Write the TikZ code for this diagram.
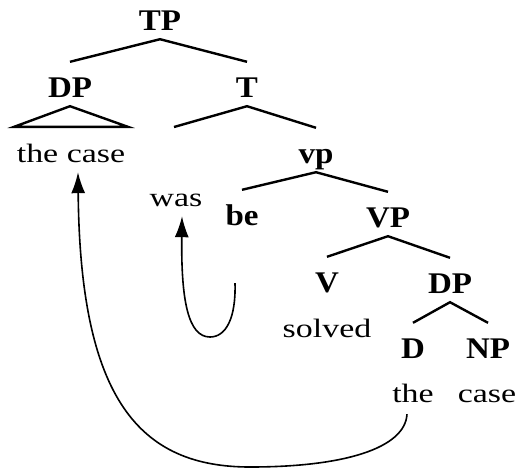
\documentclass[tikz,border=0pt]{standalone}
\usepackage{fontspec}
\setmainfont{Liberation Serif}
\newfontfamily\catfont[FakeStretch=1.1]{Liberation Serif}
\newfontfamily\wordfont[FakeStretch=1.28]{Liberation Serif}
\usetikzlibrary{arrows.meta}

\begin{document}
\begin{tikzpicture}
	[x=1pt, y=-1pt,
	cat/.style ={anchor=base, inner sep=0pt, text height=35pt, text depth=9pt, font=\catfont\bfseries\fontsize{30}{36}\selectfont},
	word/.style ={anchor=base, inner xsep=2.5pt, inner ysep=0pt, text height=35pt, text depth=10pt, font=\wordfont\fontsize{26.5}{32}\selectfont},
	branch/.style ={draw, line width=2.4pt},
	move/.style ={draw, line width=1.6pt, -{Latex[length=21pt,width=14pt]}}]
	\useasboundingbox (0,0) rectangle (518,469);
	\draw (160,30) node[cat] (TP) {TP};
	\draw (70,97) node[cat] (DP) {DP};
	\draw (247,97) node[cat] (T) {T};
	\draw (71,162) node[word] (dpwords) {the case};
	\coordinate (Tgap) at (174,127);
	\draw (316,163) node[cat] (vp) {vp};
	\draw (176,206) node[word] (was) {was};
	\draw (242,225) node[cat] (be) {be};
	\draw (388,227) node[cat] (VP) {VP};
	\draw (327,292) node[cat] (V) {V};
	\draw (450,293) node[cat] (DPo) {DP};
	\draw (327,337) node[word] (solved) {solved};
	\draw (413,358) node[cat] (D) {D};
	\draw (488,358) node[cat] (NP) {NP};
	\draw (413,402) node[word] (the) {the};
	\draw (487,402) node[word] (case) {case};
	% branches
	\draw[branch] (DP.north) -- (TP.south) -- (T.north);
	\draw[branch] (DP.south) -- (dpwords.north west) -- (dpwords.north east) -- cycle;
	\draw[branch] (Tgap) -- (T.south) -- (vp.north);
	\draw[branch] (be.north) -- (vp.south) -- (VP.north);
	\draw[branch] (V.north) -- (VP.south) -- (DPo.north);
	\draw[branch] (D.north) -- (DPo.south) -- (NP.north);
	% movement arrows
	\draw[move] ([shift={(-6,2)}]the.south) .. controls (405,448) and (345,467) .. (250,467)
		.. controls (140,467) and (80,400) .. ([xshift=7pt]dpwords.south);
	\draw[move] ([shift={(-7,49)}]be.south) .. controls (236,318) and (226,337) .. (210,337)
		.. controls (188,337) and (181,300) .. ([xshift=6pt]was.south);
\end{tikzpicture}
\end{document}
